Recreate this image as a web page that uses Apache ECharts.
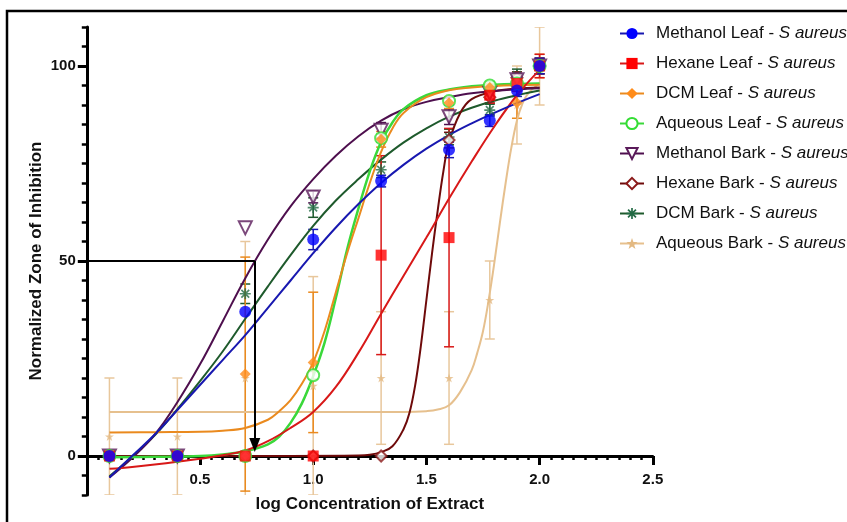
<!DOCTYPE html>
<html>
<head>
<meta charset="utf-8">
<title>Normalized Zone of Inhibition</title>
<script src="https://cdn.jsdelivr.net/npm/echarts@6.0.0/dist/echarts.min.js"></script>
<style>
  html, body { margin: 0; padding: 0; background: #fff; }
  #chart { width: 847px; height: 522px; }
</style>
</head>
<body>
<div id="chart"></div>
<script>
// log concentration of extract (x of measured points)
const xLog = [0.1, 0.4, 0.7, 1.0, 1.3, 1.6, 1.78, 1.9, 2.0];

const seriesNames = [
  'Methanol Leaf - S aureus',
  'Hexane Leaf - S aureus',
  'DCM Leaf - S aureus',
  'Aqueous Leaf - S aureus',
  'Methanol Bark - S aureus',
  'Hexane Bark - S aureus',
  'DCM Bark - S aureus',
  'Aqueous Bark - S aureus'
];

// measured means
const methLeaf = [0, 0, 37, 55.5, 70.5, 78.5, 86, 93.7, 100];
const hexLeaf = [0, 0, 0, 0, 51.5, 56, 92.5, 95.5, 100];
const dcmLeaf = [0, 0, 21, 24, 81.2, 90.6, 94.5, 90.6, 100];
const aqLeaf = [0, 0, 0, 20.7, 81.5, 91, 95, 95.5, 100];
const methBark = [0, 0, 58.5, 66.4, 83.5, 87, 93, 96.5, 100];
const hexBark = [0, 0, 0, 0, 0, 81, 92, 97, 100];
const dcmBark = [0, 0, 41.6, 63.7, 73.4, 81.8, 88.7, 97.7, 100];
const aqBark = [5, 5, 20, 18, 20, 20, 40, 90, 100];

// error bars (+/-)
const methLeafSd = [0, 0, 0, 2.6, 1.5, 2, 1.5, 1.5, 2];
const hexLeafSd = [0, 0, 0, 0, 25.5, 28, 2, 2, 3];
const dcmLeafSd = [0, 0, 30, 18, 2, 1.5, 1, 4, 3];
const aqLeafSd = [0, 0, 0, 1, 1, 1, 1, 1, 1];
const methBarkSd = [0, 0, 0, 1.5, 2, 2, 1.5, 1.5, 2];
const hexBarkSd = [0, 0, 0, 0, 0, 2, 1.5, 1.5, 2];
const dcmBarkSd = [0, 0, 2.5, 2.5, 2, 2, 1.5, 1.5, 1];
const aqBarkSd = [15, 15, 35, 28, 17, 17, 10, 10, 10];

// fitted curves
const fitX = [0.1, 0.2, 0.3, 0.4, 0.5, 0.6, 0.7, 0.8, 0.9, 1.0, 1.1, 1.2, 1.3, 1.4, 1.5, 1.6, 1.7, 1.8, 1.9, 2.0];
const methLeafFit = [-5.5, 0, 5.5, 11.8, 18.2, 24.6, 31, 38, 45, 52, 58.6, 64.6, 70, 74.7, 78.8, 82.3, 85.3, 88, 90.5, 92.8];
const methBarkFit = [-5.5, -0.5, 5.5, 13.8, 23.5, 34.5, 45.6, 55.5, 64, 71, 77, 82, 86, 88.9, 90.8, 92, 93, 93.6, 94, 94.3];
const dcmBarkFit = [-5.2, -0.2, 5.3, 12, 19.2, 26.8, 35.2, 43.5, 51.5, 59, 65.5, 71, 76, 80.4, 84, 87, 89.3, 91.1, 92.5, 93.7];
const hexLeafFit = [-3.3, -2.8, -2.2, -1.5, -0.7, 0.2, 1.4, 3.8, 7.2, 11.3, 17.7, 26.5, 36.5, 46.3, 56, 66, 75.5, 84.5, 92.5, 99];

const leafSteepX = [0.1, 0.3, 0.5, 0.6, 0.7, 0.8, 0.85, 0.9, 0.95, 1.0, 1.05, 1.1, 1.15, 1.2, 1.25, 1.3, 1.35, 1.4, 1.5, 1.6, 1.7, 1.8, 2.0];
const dcmLeafFit = [6, 6.1, 6.2, 6.5, 7.2, 9.3, 11.5, 14.3, 18.5, 24, 32, 42, 52, 61, 70, 78, 84, 88, 92, 93.8, 94.5, 94.9, 95.2];
const aqLeafFit = [-0.3, -0.2, 0, 0.4, 1.2, 3, 5, 8.5, 13.5, 20.5, 29, 40.5, 53, 63.5, 73, 80.5, 85.5, 89, 92.5, 94, 94.8, 95.2, 95.5];

const hexBarkX = [0.1, 0.5, 0.9, 1.2, 1.25, 1.3, 1.35, 1.4, 1.425, 1.45, 1.475, 1.5, 1.525, 1.55, 1.575, 1.6, 1.65, 1.7, 1.8, 1.9, 2.0];
const hexBarkFit = [0, 0, 0, 0.1, 0.3, 1, 2.5, 7, 11, 18, 28, 40, 52, 63, 73, 80.5, 88, 91.5, 93.5, 94.2, 94.5];

const aqBarkX = [0.1, 0.5, 1.0, 1.4, 1.5, 1.55, 1.6, 1.65, 1.7, 1.725, 1.75, 1.775, 1.8, 1.825, 1.85, 1.875, 1.9, 1.925, 1.95, 2.0];
const aqBarkFit = [11.3, 11.3, 11.3, 11.3, 11.5, 11.9, 13, 16.5, 22, 26.5, 32, 40, 49.5, 60, 70, 79, 86, 90.5, 93, 95.5];

// IC50 guide
const ic50X = 0.742;
const ic50Y = 50;
const arrowEndY = 2.8;

const yMajor = [0, 50, 100];

const FONT = '"Liberation Sans", Arial, sans-serif';
const asterisk = 'path://M-0.9,-6L0.9,-6L0.9,6L-0.9,6Z M-6,-0.9L6,-0.9L6,0.9L-6,0.9Z M-4.9,-3.6L-3.6,-4.9L4.9,3.6L3.6,4.9Z M3.6,-4.9L4.9,-3.6L-3.6,4.9L-4.9,3.6Z';
const star = 'path://M0,-6L1.4,-1.9L5.7,-1.9L2.2,0.7L3.5,4.9L0,2.3L-3.5,4.9L-2.2,0.7L-5.7,-1.9L-1.4,-1.9Z';

const sets = [
  { means: methLeaf, sd: methLeafSd, fx: fitX, fy: methLeafFit, line: '#1818b0', mark: '#0000ff', symbol: 'circle', size: 12 },
  { means: hexLeaf, sd: hexLeafSd, fx: fitX, fy: hexLeafFit, line: '#d81818', mark: '#ff0000', symbol: 'rect', size: 11 },
  { means: dcmLeaf, sd: dcmLeafSd, fx: leafSteepX, fy: dcmLeafFit, line: '#ea8a1e', mark: '#ff8c1a', symbol: 'diamond', size: 11 },
  { means: aqLeaf, sd: aqLeafSd, fx: leafSteepX, fy: aqLeafFit, line: '#3ad83a', mark: '#33dd33', symbol: 'circle', size: 12, open: true },
  { means: methBark, sd: methBarkSd, fx: fitX, fy: methBarkFit, line: '#4e0f4e', mark: '#5a1a5a', symbol: 'triangle', size: 13, open: true, rotate: 180 },
  { means: hexBark, sd: hexBarkSd, fx: hexBarkX, fy: hexBarkFit, line: '#6e0a0a', mark: '#8b1a1a', symbol: 'diamond', size: 11, open: true },
  { means: dcmBark, sd: dcmBarkSd, fx: fitX, fy: dcmBarkFit, line: '#1e5a2c', mark: '#236b45', symbol: asterisk, size: 11 },
  { means: aqBark, sd: aqBarkSd, fx: aqBarkX, fy: aqBarkFit, line: '#e6c08e', mark: '#e3b982', symbol: star, size: 9 }
];

function itemStyleOf(s) {
  if (s.open) {
    return { color: '#ffffff', borderColor: s.mark, borderWidth: 2 };
  }
  return { color: s.mark, borderWidth: 0 };
}

function errorBarRender(color) {
  return function (params, api) {
    const x = api.value(0);
    const top = api.coord([x, api.value(2)]);
    const bot = api.coord([x, api.value(1)]);
    const w = 5;
    const st = { stroke: color, lineWidth: 1.5 };
    return {
      type: 'group',
      children: [
        { type: 'line', shape: { x1: top[0], y1: top[1], x2: bot[0], y2: bot[1] }, style: st },
        { type: 'line', shape: { x1: top[0] - w, y1: top[1], x2: top[0] + w, y2: top[1] }, style: st },
        { type: 'line', shape: { x1: bot[0] - w, y1: bot[1], x2: bot[0] + w, y2: bot[1] }, style: st }
      ]
    };
  };
}

const series = [];
// draw last data set first so Methanol Leaf ends up on top
for (let i = sets.length - 1; i >= 0; i--) {
  const s = sets[i];
  const name = seriesNames[i];
  series.push({
    name: name,
    type: 'line',
    data: s.fx.map((x, k) => [x, s.fy[k]]),
    smooth: 0.4,
    showSymbol: false,
    symbol: s.symbol,
    symbolSize: s.size,
    symbolRotate: s.rotate || 0,
    itemStyle: itemStyleOf(s),
    lineStyle: { color: s.line, width: i === 3 ? 2.5 : 2 },
    silent: true,
    z: 3
  });
  series.push({
    name: name,
    type: 'scatter',
    data: xLog.map((x, k) => [x, s.means[k]]),
    symbol: s.symbol,
    symbolSize: s.size,
    symbolRotate: s.rotate || 0,
    itemStyle: itemStyleOf(s),
    silent: true,
    z: 4
  });
  const errData = [];
  xLog.forEach((x, k) => {
    if (s.sd[k] > 0) errData.push([x, s.means[k] - s.sd[k], s.means[k] + s.sd[k]]);
  });
  series.push({
    name: name,
    type: 'custom',
    data: errData,
    encode: { x: 0, y: [1, 2] },
    renderItem: errorBarRender(i === 7 ? '#e8c79c' : s.line),
    clip: true,
    silent: true,
    z: 2
  });
}

// IC50 guide with arrow
series.push({
  name: 'ic50',
  type: 'line',
  data: [[ic50X, ic50Y]],
  showSymbol: false,
  lineStyle: { width: 0 },
  silent: true,
  z: 6,
  markLine: {
    silent: true,
    symbol: ['none', 'none'],
    label: { show: false },
    lineStyle: { color: '#000', width: 2, type: 'solid' },
    emphasis: { disabled: true },
    data: [
      [{ coord: [0, ic50Y] }, { coord: [ic50X, ic50Y] }],
      [{ coord: [ic50X, ic50Y] }, { coord: [ic50X, arrowEndY], symbol: 'triangle', symbolSize: [11, 14] }]
    ]
  }
});

const chart = echarts.init(document.getElementById('chart'));

const axisText = { color: '#111', fontWeight: 'bold', fontSize: 15, fontFamily: FONT };
const nameText = { color: '#111', fontWeight: 'bold', fontSize: 17, fontFamily: FONT };

// grid spans y -10..110; x axis sits at y = 0, i.e. 39px above the grid bottom
chart.setOption({
  animation: false,
  backgroundColor: '#fff',
  graphic: [{
    type: 'rect',
    silent: true,
    shape: { x: 7, y: 11, width: 880, height: 540 },
    style: { fill: 'none', stroke: '#000', lineWidth: 2.5 }
  }],
  grid: {
    left: 86.8,
    right: 194.2,
    top: 27,
    bottom: 27,
    outerBoundsMode: 'none'
  },
  legend: {
    data: seriesNames,
    orient: 'vertical',
    left: 614,
    top: 20,
    itemWidth: 24,
    itemHeight: 14,
    itemGap: 13,
    selectedMode: false,
    formatter: function (name) {
      const p = name.split(' - ');
      return p[0] + ' - {i|' + p[1] + '}';
    },
    textStyle: {
      color: '#111',
      fontSize: 17,
      lineHeight: 17,
      fontFamily: FONT,
      padding: [0, 0, 0, 7],
      rich: {
        i: { fontStyle: 'italic', fontSize: 17, lineHeight: 17, color: '#111', fontFamily: FONT }
      }
    }
  },
  xAxis: {
    type: 'value',
    min: 0,
    max: 2.5,
    interval: 0.5,
    position: 'bottom',
    offset: -39,
    name: 'log Concentration of Extract',
    nameLocation: 'middle',
    nameGap: 40,
    nameTextStyle: nameText,
    axisLine: { show: true, onZero: false, lineStyle: { color: '#000', width: 3 } },
    axisTick: { show: true, length: 9, lineStyle: { color: '#000', width: 3 } },
    minorTick: { show: true, splitNumber: 10, length: 4, lineStyle: { color: '#000', width: 2.5 } },
    splitLine: { show: false },
    axisLabel: Object.assign({
      margin: 16,
      showMaxLabel: true,
      formatter: function (v) { return v === 0 ? '' : v.toFixed(1); }
    }, axisText)
  },
  yAxis: [{
    type: 'value',
    min: -10,
    max: 110,
    position: 'left',
    name: 'Normalized Zone of Inhibition',
    nameLocation: 'middle',
    nameRotate: 90,
    nameGap: 42,
    nameMoveOverlap: false,
    nameTextStyle: nameText,
    axisLine: { show: true, onZero: false, lineStyle: { color: '#000', width: 3 } },
    axisTick: { show: true, customValues: yMajor, length: 9, lineStyle: { color: '#000', width: 3 } },
    splitLine: { show: false },
    axisLabel: Object.assign({ customValues: yMajor, margin: 11 }, axisText)
  }, {
    type: 'value',
    min: -10,
    max: 110,
    interval: 5,
    position: 'left',
    axisLine: { show: false, onZero: false },
    axisTick: { show: true, length: 5, lineStyle: { color: '#000', width: 2.5 } },
    axisLabel: { show: false },
    splitLine: { show: false }
  }],
  series: series
});
</script>
</body>
</html>
